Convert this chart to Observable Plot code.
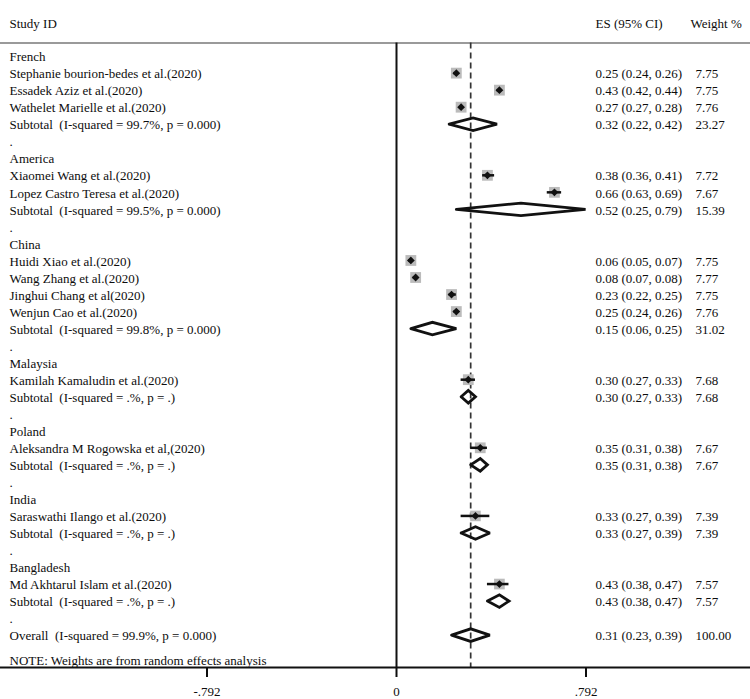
<!DOCTYPE html>
<html><head><meta charset="utf-8">
<script src="https://cdn.jsdelivr.net/npm/d3@7"></script>
<script src="https://cdn.jsdelivr.net/npm/@observablehq/plot@0.6"></script>
<style>html,body{margin:0;padding:0;background:#fff}#chart svg{display:block}</style>
</head><body><div id="chart"></div>
<script>
// ---- data ----
const groups = ["French", "America", "China", "Malaysia", "Poland", "India", "Bangladesh"];
const studyNames = [
  "Stephanie bourion-bedes et al.(2020)", "Essadek Aziz et al.(2020)", "Wathelet Marielle et al.(2020)",
  "Xiaomei Wang et al.(2020)", "Lopez Castro Teresa et al.(2020)",
  "Huidi Xiao et al.(2020)", "Wang Zhang et al.(2020)", "Jinghui Chang et al(2020)", "Wenjun Cao et al.(2020)",
  "Kamilah Kamaludin et al.(2020)", "Aleksandra M Rogowska et al,(2020)", "Saraswathi Ilango et al.(2020)",
  "Md Akhtarul Islam et al.(2020)"
];
const studyGroups = ["French", "French", "French", "America", "America", "China", "China", "China", "China",
  "Malaysia", "Poland", "India", "Bangladesh"];
const studyES = [0.25, 0.43, 0.27, 0.38, 0.66, 0.06, 0.08, 0.23, 0.25, 0.30, 0.35, 0.33, 0.43];
const studyLo = [0.24, 0.42, 0.27, 0.36, 0.63, 0.05, 0.07, 0.22, 0.24, 0.27, 0.31, 0.27, 0.38];
const studyHi = [0.26, 0.44, 0.28, 0.41, 0.69, 0.07, 0.08, 0.25, 0.26, 0.33, 0.38, 0.39, 0.47];
const studyWeight = [7.75, 7.75, 7.76, 7.72, 7.67, 7.75, 7.77, 7.75, 7.76, 7.68, 7.67, 7.39, 7.57];
const subtotalES = [0.32, 0.52, 0.15, 0.30, 0.35, 0.33, 0.43];
const subtotalLo = [0.22, 0.25, 0.06, 0.27, 0.31, 0.27, 0.38];
const subtotalHi = [0.42, 0.79, 0.25, 0.33, 0.38, 0.39, 0.47];
const subtotalWeight = [23.27, 15.39, 31.02, 7.68, 7.67, 7.39, 7.57];
const subtotalHet = ["I-squared = 99.7%, p = 0.000", "I-squared = 99.5%, p = 0.000", "I-squared = 99.8%, p = 0.000",
  "I-squared = .%, p = .", "I-squared = .%, p = .", "I-squared = .%, p = .", "I-squared = .%, p = ."];
const overallES = 0.31, overallLo = 0.23, overallHi = 0.39, overallWeight = 100.00;
const overallHet = "I-squared = 99.9%, p = 0.000";
const headers = ["Study ID", "ES (95% CI)", "Weight %"];
const noteText = "NOTE: Weights are from random effects analysis";
const xTicks = [-0.792, 0, 0.792];
const xTickLabels = ["-.792", "0", ".792"];

// ---- rows ----
const rows = [];
let r = 0;
groups.forEach((g, gi) => {
  rows.push({r: r++, label: g, kind: "group"});
  studyNames.forEach((n, i) => {
    if (studyGroups[i] === g) rows.push({r: r++, label: n, kind: "study", es: studyES[i], lo: studyLo[i], hi: studyHi[i], w: studyWeight[i]});
  });
  rows.push({r: r++, label: "Subtotal\u00a0 (" + subtotalHet[gi] + ")", kind: "sub", es: subtotalES[gi], lo: subtotalLo[gi], hi: subtotalHi[gi], w: subtotalWeight[gi]});
  rows.push({r: r++, label: ".", kind: "spacer"});
});
rows.push({r: r++, label: "Overall\u00a0 (" + overallHet + ")", kind: "sub", es: overallES, lo: overallLo, hi: overallHi, w: overallWeight});

const studies = rows.filter(d => d.kind === "study");
const valued = rows.filter(d => d.es !== undefined);
const H = 0.37;
const diamondPts = rows.filter(d => d.kind === "sub").flatMap(d => [
  {id: d.r, x: d.lo, y: d.r}, {id: d.r, x: d.es, y: d.r - H}, {id: d.r, x: d.hi, y: d.r},
  {id: d.r, x: d.es, y: d.r + H}, {id: d.r, x: d.lo, y: d.r}
]);
const f2 = v => v.toFixed(2);

// ---- layout ----
const W = 750, HT = 699;
const zeroPx = 396, pxPerUnit = 239.3;
const xDomain = [-zeroPx / pxPerUnit, (W - zeroPx) / pxPerUnit];
const yDomain = [-0.769, 35.90];
const font = "'Liberation Serif', 'Times New Roman', serif";
const ink = "#0d0d0d";

const chart = Plot.plot({
  width: W, height: HT,
  marginLeft: 0, marginRight: 0, marginTop: 42.5, marginBottom: 32,
  style: {fontFamily: font, fontSize: "13px", background: "#fff", color: ink},
  x: {domain: xDomain},
  y: {domain: yDomain, reverse: true, axis: null},
  r: {type: "sqrt", domain: [0, 7.75], range: [0, 6.1]},
  marks: [
    Plot.ruleY([yDomain[0]], {stroke: "#9a9a9a", strokeWidth: 2}),
    Plot.ruleX([0], {stroke: "#111", strokeWidth: 2}),
    Plot.ruleX([overallES], {stroke: "#333", strokeWidth: 1.7, strokeDasharray: "6,4"}),
    Plot.dot(studies, {x: "es", y: "r", r: "w", symbol: "square", fill: "#bbbbbb", stroke: "none"}),
    Plot.ruleY(studies, {y: "r", x1: "lo", x2: "hi", stroke: "#111", strokeWidth: 2.5}),
    Plot.dot(studies, {x: "es", y: "r", r: 3.5, symbol: "diamond2", fill: "#111", stroke: "none"}),
    Plot.line(diamondPts, {x: "x", y: "y", z: "id", stroke: "#111", strokeWidth: 2.8, strokeLinejoin: "miter", strokeMiterlimit: 2}),
    Plot.text(rows, {y: "r", text: "label", frameAnchor: "left", dx: 9, dy: 1, textAnchor: "start", fill: ink, fontSize: 13}),
    Plot.text(valued, {y: "r", text: d => `${f2(d.es)} (${f2(d.lo)}, ${f2(d.hi)})`, frameAnchor: "left", dx: 595, dy: 1, textAnchor: "start", fill: ink, fontSize: 13}),
    Plot.text(valued, {y: "r", text: d => f2(d.w), frameAnchor: "left", dx: 695, dy: 1, textAnchor: "start", fill: ink, fontSize: 13}),
    Plot.text([headers[0]], {text: d => d, frameAnchor: "top-left", dx: 9, dy: -19.5, lineAnchor: "middle", textAnchor: "start", fill: ink, fontSize: 13}),
    Plot.text([headers[1]], {text: d => d, frameAnchor: "top-left", dx: 595, dy: -19.5, lineAnchor: "middle", textAnchor: "start", fill: ink, fontSize: 13}),
    Plot.text([headers[2]], {text: d => d, frameAnchor: "top-left", dx: 690, dy: -19.5, lineAnchor: "middle", textAnchor: "start", fill: ink, fontSize: 13}),
    Plot.text([noteText], {text: d => d, frameAnchor: "bottom-left", dx: 9, dy: -7, lineAnchor: "middle", textAnchor: "start", fill: ink, fontSize: 13}),
    Plot.ruleY([yDomain[1]], {stroke: "#111", strokeWidth: 2}),
    Plot.axisX({ticks: xTicks, tickFormat: d => xTickLabels[xTicks.indexOf(d)], tickSize: 10, tickPadding: 9, fontSize: 13, strokeWidth: 2, label: null})
  ]
});
document.getElementById("chart").appendChild(chart);
</script>
</body></html>
